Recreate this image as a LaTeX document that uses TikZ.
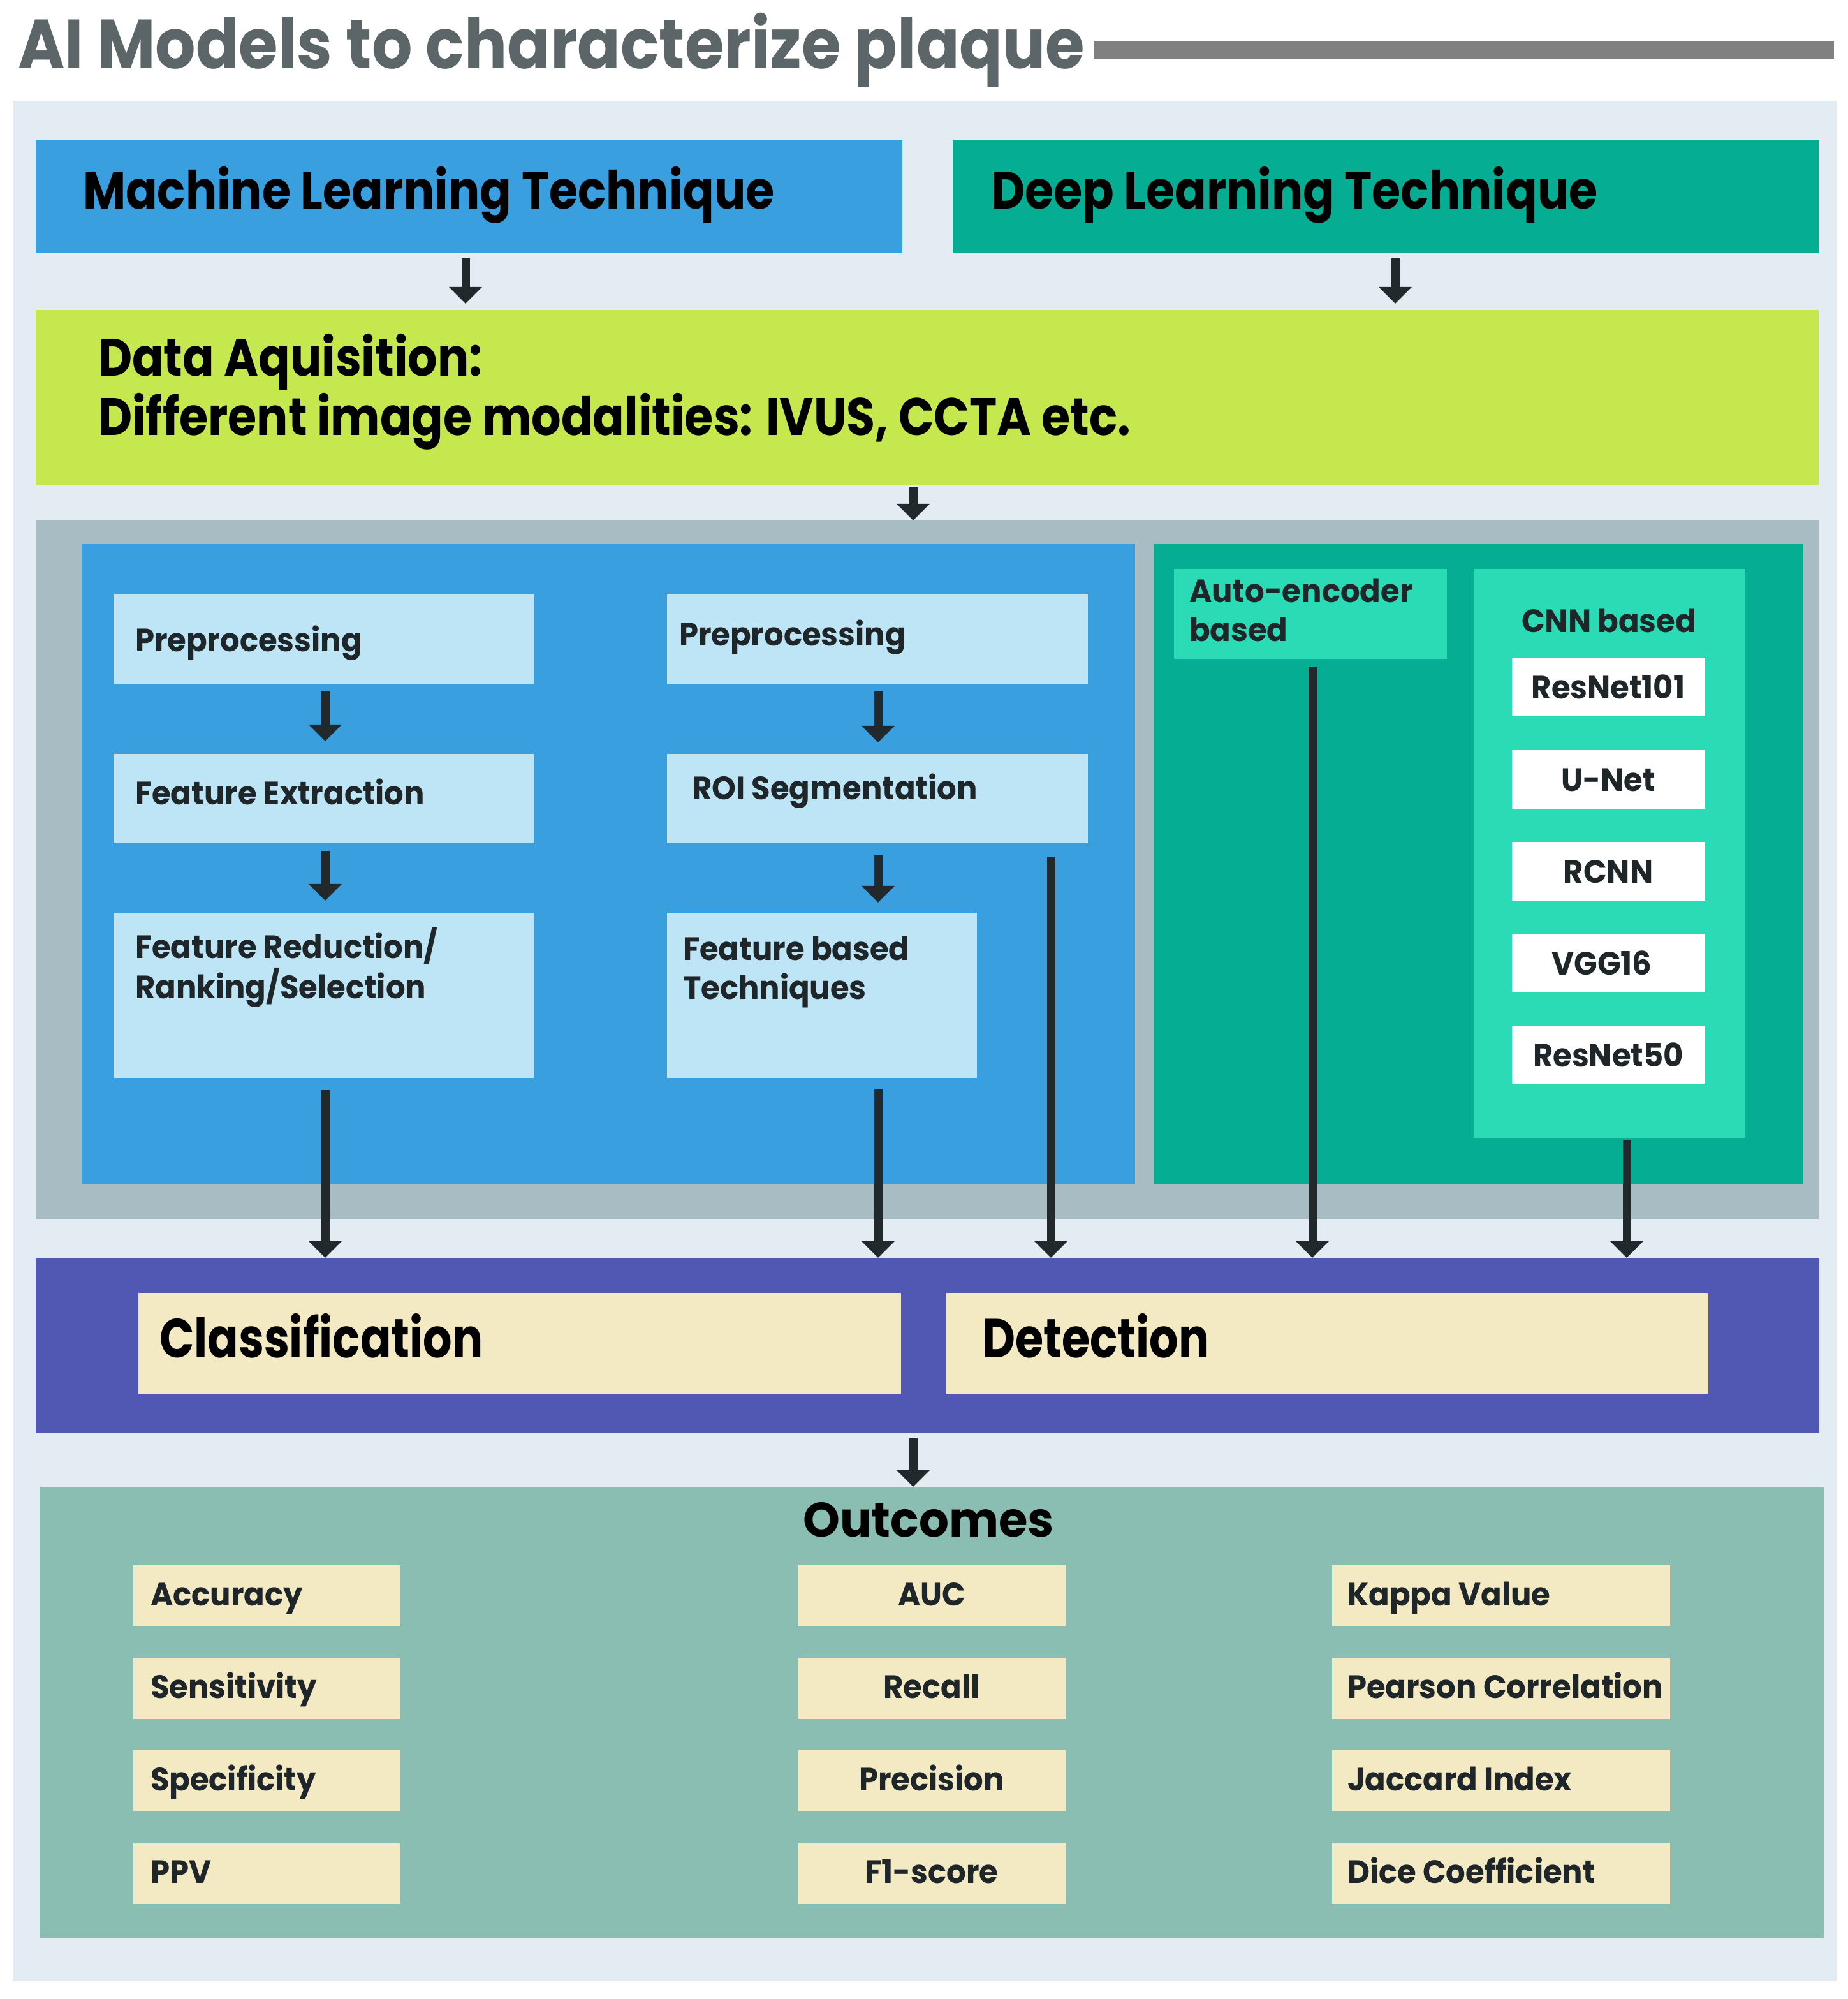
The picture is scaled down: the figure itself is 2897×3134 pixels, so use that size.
\documentclass[tikz,border=0pt]{standalone}
\usepackage{fontspec}
\setmainfont{Poppins}
\newfontfamily\ftitle{Poppins}[FakeStretch=0.915]
\newfontfamily\fhead{Poppins}[FakeStretch=0.885]
\newfontfamily\fcls{Poppins}[FakeStretch=0.83]
\newfontfamily\fout{Poppins}[FakeStretch=0.97]
\newfontfamily\fsmall{Poppins}[FakeStretch=0.95]
\usetikzlibrary{arrows.meta,calc}
\definecolor{bgc}{HTML}{E2ECF2}
\definecolor{titlec}{HTML}{5C6669}
\definecolor{barc}{HTML}{808080}
\definecolor{mlc}{HTML}{399FDF}
\definecolor{dlc}{HTML}{05AE92}
\definecolor{limec}{HTML}{C5E84E}
\definecolor{grayc}{HTML}{A7BDC3}
\definecolor{lbluec}{HTML}{BEE5F5}
\definecolor{lteal}{HTML}{2BDBB5}
\definecolor{purplec}{HTML}{5058B4}
\definecolor{creamc}{HTML}{F3EAC3}
\definecolor{outc}{HTML}{8BBEB3}
\definecolor{arrowc}{HTML}{22292D}
\definecolor{inktxt}{HTML}{1F262A}
\newcommand\mybox[6]{\node[boxbase,#6,anchor=north west,minimum width={(#4-#2)*0.01cm},minimum height={(#5-#3)*0.01cm}] (#1) at (#2,#3) {};}
\newcommand\fs[2]{#1\fontsize{#2}{#2}\selectfont\bfseries}
\begin{document}
\begin{tikzpicture}[x=0.01cm,y=-0.01cm,
  boxbase/.style={rectangle,draw=none,inner sep=0pt,outer sep=0pt},
  txt/.style={inner sep=0pt,outer sep=0pt,text=inktxt},
  hdr/.style={txt,text=black,font=\fs{\fhead}{23.5}},
  small/.style={txt,font=\fs{\fsmall}{14.4}},
  arr/.style={draw=arrowc,line width=1.3mm,-{Triangle[length=2.6mm,width=5mm]}}]
\useasboundingbox (0,0) rectangle (2897,3134);
\fill[white] (0,0) rectangle (2897,3134);
% background and title
\mybox{bg}{20}{158}{2880}{3106}{fill=bgc}
\node[txt,text=titlec,font=\fs{\ftitle}{31},anchor=base west] (title) at (28,108) {AI Models to characterize plaque};
\mybox{bar}{1716}{64}{2876}{92}{fill=barc}
% headers
\mybox{ml}{56}{220}{1415}{397}{fill=mlc}
\node[hdr,anchor=base west] (mlt) at (130,328) {Machine Learning Technique};
\mybox{dl}{1494}{220}{2852}{397}{fill=dlc}
\node[hdr,anchor=base west] (dlt) at (1554,328) {Deep Learning Technique};
% data acquisition
\mybox{data}{56}{486}{2852}{760}{fill=limec}
\node[hdr,anchor=base west] (datat1) at (154,590) {Data Aquisition:};
\node[hdr,anchor=base west] (datat2) at (154,683) {Different image modalities: IVUS, CCTA etc.};
% middle container
\mybox{grayp}{56}{816}{2852}{1911}{fill=grayc}
\mybox{mlp}{128}{853}{1780}{1856}{fill=mlc}
\mybox{dlp}{1810}{853}{2827}{1856}{fill=dlc}
% ML boxes left column
\mybox{l1}{178}{931}{838}{1072}{fill=lbluec}
\node[small,anchor=base west] (l1t) at (212,1021) {Preprocessing};
\mybox{l2}{178}{1182}{838}{1322}{fill=lbluec}
\node[small,anchor=base west] (l2t) at (212,1261) {Feature Extraction};
\mybox{l3}{178}{1432}{838}{1690}{fill=lbluec}
\node[small,anchor=base west] (l3t1) at (212,1502) {Feature Reduction/};
\node[small,anchor=base west] (l3t2) at (212,1565) {Ranking/Selection};
% ML boxes right column
\mybox{r1}{1046}{931}{1706}{1072}{fill=lbluec}
\node[small,anchor=base west] (r1t) at (1065,1012) {Preprocessing};
\mybox{r2}{1046}{1182}{1706}{1322}{fill=lbluec}
\node[small,anchor=base west] (r2t) at (1085,1253) {ROI Segmentation};
\mybox{r3}{1046}{1431}{1532}{1690}{fill=lbluec}
\node[small,anchor=base west] (r3t1) at (1071,1505) {Feature based};
\node[small,anchor=base west] (r3t2) at (1071,1566) {Techniques};
% DL boxes
\mybox{ae}{1841}{892}{2269}{1033}{fill=lteal}
\node[small,anchor=base west] (aet1) at (1865,944) {Auto-encoder};
\node[small,anchor=base west] (aet2) at (1865,1005) {based};
\mybox{cnn}{2311}{892}{2737}{1784}{fill=lteal}
\node[small,anchor=base] (cnnt) at (2523,991) {CNN based};
\mybox{w1}{2371}{1031}{2674}{1123}{fill=white}
\node[small,anchor=base] (w1t) at (2522,1095) {ResNet101};
\mybox{w2}{2371}{1176}{2674}{1268}{fill=white}
\node[small,anchor=base] (w2t) at (2522,1240) {U-Net};
\mybox{w3}{2371}{1320}{2674}{1412}{fill=white}
\node[small,anchor=base] (w3t) at (2522,1384) {RCNN};
\mybox{w4}{2371}{1464}{2674}{1556}{fill=white}
\node[small,anchor=base] (w4t) at (2512,1528) {VGG16};
\mybox{w5}{2371}{1608}{2674}{1700}{fill=white}
\node[small,anchor=base] (w5t) at (2522,1672) {ResNet50};
% classification / detection
\mybox{purp}{56}{1972}{2853}{2247}{fill=purplec}
\mybox{cls}{217}{2027}{1413}{2186}{fill=creamc}
\node[txt,text=black,font=\fs{\fcls}{24.5},anchor=base west] (clst) at (250,2128) {Classification};
\mybox{det}{1483}{2027}{2679}{2186}{fill=creamc}
\node[txt,text=black,font=\fs{\fcls}{24.5},anchor=base west] (dett) at (1540,2128) {Detection};
% outcomes
\mybox{outp}{62}{2331}{2860}{3039}{fill=outc}
\node[txt,text=black,font=\fs{\fout}{21.6},anchor=base] (outt) at (1456,2409) {Outcomes};
\foreach \nm/\ty/\a/\b/\c in {1/2454/Accuracy/AUC/Kappa Value,
                              2/2599/Sensitivity/Recall/Pearson Correlation,
                              3/2744/Specificity/Precision/Jaccard Index,
                              4/2889/PPV/F1-score/Dice Coefficient}{
  \mybox{oa\nm}{209}{\ty}{628}{\ty+96}{fill=creamc}
  \mybox{ob\nm}{1251}{\ty}{1671}{\ty+96}{fill=creamc}
  \mybox{oc\nm}{2089}{\ty}{2619}{\ty+96}{fill=creamc}
  \node[small,anchor=base west] (oat\nm) at (236,\ty+63) {\a};
  \node[small,anchor=base] (obt\nm) at (1461,\ty+63) {\b};
  \node[small,anchor=base west] (oct\nm) at (2113,\ty+63) {\c};
}
% column coordinates for connectors
\coordinate (x730) at (730,0);
\coordinate (x2188) at (2188,0);
\coordinate (x1432) at (1432,0);
\coordinate (x510) at (510,0);
\coordinate (x1377) at (1377,0);
\coordinate (x1648) at (1648,0);
\coordinate (x2058) at (2058,0);
\coordinate (x2551) at (2551,0);
% connectors
\draw[arr] ($(ml.south-|x730)+(0,8)$) -- ($(data.north-|x730)+(0,-10)$);
\draw[arr] ($(dl.south-|x2188)+(0,8)$) -- ($(data.north-|x2188)+(0,-10)$);
\draw[arr] ($(data.south-|x1432)+(0,4)$) -- (grayp.north-|x1432);
\draw[arr] ($(l1.south-|x510)+(0,12)$) -- ($(l2.north-|x510)+(0,-20)$);
\draw[arr] ($(l2.south-|x510)+(0,12)$) -- ($(l3.north-|x510)+(0,-20)$);
\draw[arr] ($(r1.south-|x1377)+(0,12)$) -- ($(r2.north-|x1377)+(0,-18)$);
\draw[arr] ($(r2.south-|x1377)+(0,18)$) -- ($(r3.north-|x1377)+(0,-16)$);
\draw[arr] ($(l3.south-|x510)+(0,19)$) -- (purp.north-|x510);
\draw[arr] ($(r3.south-|x1377)+(0,18)$) -- (purp.north-|x1377);
\draw[arr] ($(r2.south-|x1648)+(0,22)$) -- (purp.north-|x1648);
\draw[arr] ($(ae.south-|x2058)+(0,12)$) -- (purp.north-|x2058);
\draw[arr] ($(cnn.south-|x2551)+(0,4)$) -- (purp.north-|x2551);
\draw[arr] ($(purp.south-|x1432)+(0,7)$) -- (outp.north-|x1432);
\end{tikzpicture}
\end{document}
